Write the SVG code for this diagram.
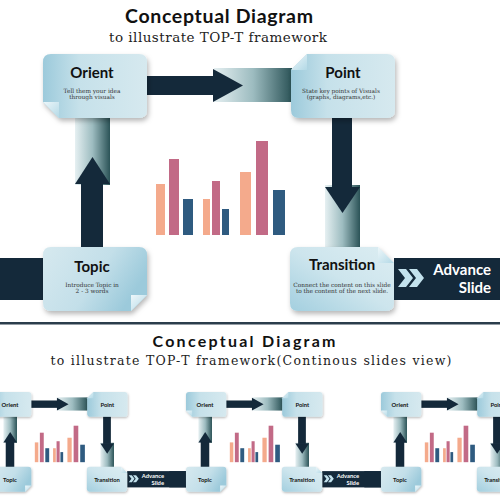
<svg xmlns="http://www.w3.org/2000/svg" width="500" height="500" viewBox="0 0 500 500">
<defs>
<style>
.ttl{font-family:Lato,"Noto Sans",sans-serif;font-weight:700;fill:#111;text-anchor:middle}
.sub{font-family:"DejaVu Serif","Liberation Serif",serif;fill:#222;text-anchor:middle}
.nt{font-family:Lato,"Noto Sans",sans-serif;font-weight:700;font-size:15px;fill:#111;text-anchor:middle}
.nd{font-family:"DejaVu Serif","Liberation Serif",serif;font-size:5.8px;fill:#333;text-anchor:middle}
.dark{fill:#14293a}
.adv{font-family:Lato,"Noto Sans",sans-serif;font-weight:700;font-size:15px;fill:#fff;text-anchor:end}
.chev{fill:#c3e2ed}
.b1{fill:#f4aa8c}.b2{fill:#c26a86}.b3{fill:#2f5b80}
</style>
<linearGradient id="gL" x1="0" y1="0" x2="1" y2="0"><stop offset="0" stop-color="#9ccadb"/><stop offset="0.35" stop-color="#c6e1ea"/><stop offset="1" stop-color="#d6e9ef"/></linearGradient>
<linearGradient id="gR" x1="0" y1="0" x2="1" y2="0.4"><stop offset="0" stop-color="#d6e9ef"/><stop offset="0.6" stop-color="#c3dfe9"/><stop offset="1" stop-color="#9ccadb"/></linearGradient>
<linearGradient id="gT" x1="1" y1="0" x2="0" y2="1"><stop offset="0" stop-color="#dcedf2"/><stop offset="0.5" stop-color="#cde5ed"/><stop offset="1" stop-color="#a3cfdf"/></linearGradient>
<linearGradient id="gF" x1="0" y1="0" x2="1" y2="1"><stop offset="0" stop-color="#eef7fa"/><stop offset="1" stop-color="#b3d9e6"/></linearGradient>
<linearGradient id="gH" x1="0" y1="0" x2="1" y2="0"><stop offset="0" stop-color="#e6f0f2"/><stop offset="0.5" stop-color="#9dbcc0"/><stop offset="1" stop-color="#2b5357"/></linearGradient>
<filter id="sh" x="-20%" y="-20%" width="145%" height="155%"><feDropShadow dx="1.5" dy="3" stdDeviation="2.5" flood-color="#000" flood-opacity="0.28"/></filter>
<g id="boxBL"><path d="M8,0H96Q104,0 104,8V56Q104,64 96,64H16L0,48V8Q0,0 8,0Z" fill="url(#gL)" filter="url(#sh)"/><path d="M0,48L16,48L16,64Z" fill="url(#gF)"/></g>
<g id="boxTL"><path d="M16,0H96Q104,0 104,8V56Q104,64 96,64H8Q0,64 0,56V16Z" fill="url(#gL)" filter="url(#sh)"/><path d="M0,16L16,0L16,16Z" fill="url(#gF)"/></g>
<g id="boxBR"><path d="M8,0H96Q104,0 104,8V48L88,64H8Q0,64 0,56V8Q0,0 8,0Z" fill="url(#gR)" filter="url(#sh)"/><path d="M104,48L88,64L88,48Z" fill="url(#gF)"/></g>
<g id="boxTR"><path d="M8,0H88L104,16V56Q104,64 96,64H8Q0,64 0,56V8Q0,0 8,0Z" fill="url(#gT)" filter="url(#sh)"/><path d="M88,0L104,16L88,16Z" fill="url(#gF)"/></g>
<g id="chev"><polygon class="chev" points="398,269 406,269 413,278 406,287 398,287 405,278"/><polygon class="chev" points="409,269 417,269 424,278 417,287 409,287 416,278"/></g>
</defs>
<rect width="500" height="500" fill="#fff"/>

<text class="ttl" x="219" y="23" font-size="19.5" font-weight="900" textLength="188">Conceptual Diagram</text>
<text class="sub" x="218" y="42" font-size="13.5" textLength="218">to illustrate TOP-T framework</text>
<rect x="0" y="322" width="500" height="2.5" fill="#2b3d4c"/>
<text class="ttl" x="244" y="347" font-size="16" font-weight="900" textLength="183">Conceptual Diagram</text>
<text class="sub" x="251" y="365" font-size="12.5" textLength="401">to illustrate TOP-T framework(Continous slides view)</text>

<g id="connectors">
 <g id="conn-main">
  <rect x="214" y="68" width="78" height="34" fill="url(#gH)"/>
  <rect class="dark" x="146" y="76" width="70" height="19"/>
  <polygon class="dark" points="213,69 243,85.5 213,102"/>
  <rect x="325" y="185" width="35" height="63" fill="url(#gH)"/>
  <rect class="dark" x="332" y="117" width="20" height="71"/>
  <polygon class="dark" points="325,187 360,187 342.5,213"/>
  <rect x="75" y="117" width="35" height="68" fill="url(#gH)"/>
  <rect class="dark" x="81" y="182" width="22" height="66"/>
  <polygon class="dark" points="75,184 110,184 92.5,157"/>
  <rect class="dark" x="0" y="258" width="44" height="42"/>
 </g>
 <use href="#conn-main" transform="translate(-25.7,371) scale(0.388)"/>
 <use href="#conn-main" transform="translate(169.3,371) scale(0.388)"/>
 <use href="#conn-main" transform="translate(364.3,371) scale(0.388)"/>
</g>

<g id="chart">
 <rect class="b1" x="156" y="184" width="9" height="51"/>
 <rect class="b2" x="169" y="159" width="10" height="76"/>
 <rect class="b3" x="183" y="199" width="10" height="36"/>
 <rect class="b1" x="203" y="199" width="7" height="36"/>
 <rect class="b2" x="212" y="181" width="8" height="54"/>
 <rect class="b3" x="222" y="209" width="7" height="26"/>
 <rect class="b1" x="240" y="172" width="11" height="63"/>
 <rect class="b2" x="256" y="141" width="12" height="94"/>
 <rect class="b3" x="273" y="190" width="12" height="45"/>
</g>

<g id="orient" transform="translate(43,54)"><use href="#boxBL"/><text class="nt" x="49" y="24">Orient</text><text class="nd" x="49" y="39">Tell them your idea</text><text class="nd" x="49" y="45">through visuals</text></g>
<g id="point" transform="translate(291,54)"><use href="#boxTL"/><text class="nt" x="52" y="24">Point</text><text class="nd" x="50" y="39">State key points of Visuals</text><text class="nd" x="50" y="45">(graphs, diagrams,etc.)</text></g>
<g id="topic" transform="translate(43,247)"><use href="#boxBR"/><text class="nt" x="49" y="25">Topic</text><text class="nd" x="49" y="40">Introduce Topic in</text><text class="nd" x="49" y="46">2 - 3 words</text></g>
<g id="transition" transform="translate(290,247)"><use href="#boxTR"/><text class="nt" x="52" y="23">Transition</text><text class="nd" x="52" y="40">Connect the content on this slide</text><text class="nd" x="52" y="46">to the content of the next slide.</text></g>
<g id="advance"><rect class="dark" x="394" y="258" width="106" height="42"/><use href="#chev"/><text class="adv" x="491" y="275">Advance</text><text class="adv" x="491" y="293">Slide</text></g>

<g id="slide1" transform="translate(-25.7,371) scale(0.388)">
 <use href="#chart"/>
 <g id="s1-advance"><rect class="dark" x="394" y="258" width="152" height="42"/><use href="#chev"/><text class="adv" x="489" y="275">Advance</text><text class="adv" x="489" y="293">Slide</text></g>
 <g id="s1-orient" transform="translate(43,54)"><use href="#boxBL"/><text class="nt" x="49" y="38">Orient</text></g>
 <g id="s1-point" transform="translate(291,54)"><use href="#boxTL"/><text class="nt" x="52" y="38">Point</text></g>
 <g id="s1-topic" transform="translate(43,247)"><use href="#boxBR"/><text class="nt" x="49" y="38">Topic</text></g>
 <g id="s1-transition" transform="translate(290,247)"><use href="#boxTR"/><text class="nt" x="52" y="38">Transition</text></g>
</g>
<g id="slide2" transform="translate(169.3,371) scale(0.388)">
 <use href="#chart"/>
 <g id="s2-advance"><rect class="dark" x="394" y="258" width="152" height="42"/><use href="#chev"/><text class="adv" x="489" y="275">Advance</text><text class="adv" x="489" y="293">Slide</text></g>
 <g id="s2-orient" transform="translate(43,54)"><use href="#boxBL"/><text class="nt" x="49" y="38">Orient</text></g>
 <g id="s2-point" transform="translate(291,54)"><use href="#boxTL"/><text class="nt" x="52" y="38">Point</text></g>
 <g id="s2-topic" transform="translate(43,247)"><use href="#boxBR"/><text class="nt" x="49" y="38">Topic</text></g>
 <g id="s2-transition" transform="translate(290,247)"><use href="#boxTR"/><text class="nt" x="52" y="38">Transition</text></g>
</g>
<g id="slide3" transform="translate(364.3,371) scale(0.388)">
 <use href="#chart"/>
 <g id="s3-orient" transform="translate(43,54)"><use href="#boxBL"/><text class="nt" x="49" y="38">Orient</text></g>
 <g id="s3-point" transform="translate(291,54)"><use href="#boxTL"/><text class="nt" x="52" y="38">Point</text></g>
 <g id="s3-topic" transform="translate(43,247)"><use href="#boxBR"/><text class="nt" x="49" y="38">Topic</text></g>
 <g id="s3-transition" transform="translate(290,247)"><use href="#boxTR"/><text class="nt" x="52" y="38">Transition</text></g>
</g>
</svg>
